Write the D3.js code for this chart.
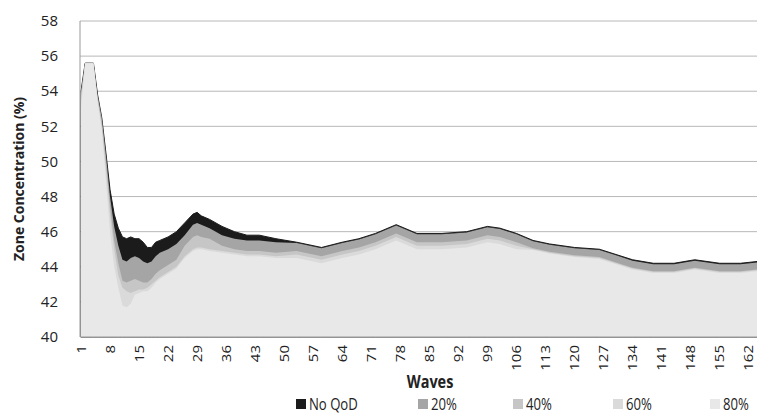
<!DOCTYPE html>
<html>
<head>
<meta charset="utf-8">
<script src="https://cdn.jsdelivr.net/npm/d3@7"></script>
<style>
body { margin: 0; background: #fff; }
text { font-family: 'Open Sans', sans-serif; fill: #222; }
</style>
</head>
<body>
<svg id="chart" width="757" height="415"></svg>
<script>
'use strict';
const waves = [1,2,4,5,6,7,8,9,10,11,12,13,14,15,16,17,18,19,20,22,24,26,28,29,30,32,35,38,41,44,48,53,59,64,68,72,77,82,88,94,99,102,106,110,114,120,126,130,134,139,144,149,155,160,164];
const noQod = [54.0,55.6,55.6,53.8,52.5,50.5,48.4,47.0,46.2,45.7,45.6,45.7,45.6,45.6,45.4,45.1,45.1,45.4,45.5,45.7,46.0,46.5,47.0,47.1,46.9,46.7,46.3,46.0,45.8,45.8,45.6,45.4,45.1,45.4,45.6,45.9,46.4,45.9,45.9,46.0,46.3,46.2,45.9,45.5,45.3,45.1,45.0,44.7,44.4,44.2,44.2,44.4,44.2,44.2,44.3];
const p20 = [54.0,55.6,55.6,53.8,52.5,50.4,48.0,46.3,45.2,44.4,44.3,44.5,44.6,44.5,44.3,44.2,44.3,44.6,44.8,45.0,45.3,45.8,46.4,46.5,46.4,46.2,45.8,45.6,45.5,45.5,45.4,45.35,45.05,45.35,45.55,45.85,46.35,45.85,45.85,45.95,46.25,46.15,45.85,45.45,45.25,45.05,44.95,44.65,44.35,44.15,44.15,44.35,44.15,44.15,44.25];
const p40 = [53.8,55.6,55.6,53.6,52.2,50.0,47.5,45.5,44.2,43.2,43.1,43.2,43.3,43.2,43.1,43.1,43.3,43.6,43.8,44.1,44.4,45.2,45.7,45.8,45.7,45.6,45.2,45.0,44.9,44.9,44.8,44.9,44.6,44.9,45.1,45.4,45.9,45.4,45.4,45.5,45.8,45.7,45.4,45.05,44.85,44.65,44.55,44.25,43.95,43.75,43.75,43.95,43.75,43.75,43.85];
const p60 = [53.5,55.6,55.6,53.5,52.0,49.6,47.0,45.0,43.5,42.8,42.6,42.5,42.6,42.7,42.7,42.8,43.0,43.2,43.4,43.7,44.0,44.6,45.0,45.1,45.1,45.0,44.9,44.8,44.7,44.7,44.6,44.7,44.4,44.7,44.9,45.2,45.7,45.2,45.2,45.3,45.6,45.5,45.2,45.0,44.8,44.6,44.5,44.2,43.9,43.7,43.7,43.9,43.7,43.7,43.8];
const p80 = [53.0,55.6,55.6,53.4,51.8,49.0,46.0,44.0,42.8,41.8,41.7,41.9,42.4,42.5,42.6,42.6,42.8,43.1,43.3,43.6,43.9,44.5,44.9,45.0,45.0,44.9,44.8,44.7,44.6,44.6,44.5,44.5,44.2,44.5,44.7,45.0,45.5,45.0,45.0,45.1,45.4,45.3,45.0,44.95,44.75,44.55,44.45,44.15,43.85,43.65,43.65,43.85,43.65,43.65,43.75];
const seriesNames = ['No QoD','20%','40%','60%','80%'];
const seriesColors = ['#1b1b1b','#a5a5a5','#c6c6c6','#dadada','#e8e8e8'];
const seriesValues = [noQod, p20, p40, p60, p80];
const xTicks = d3.range(1, 163, 7); //1, 8, ... 162
const yTicks = d3.range(40, 59, 2);

const svg = d3.select('#chart');
const x0 = 80, x1 = 757, yTop = 21, yBot = 337;
const x = d3.scaleLinear().domain([1, 164]).range([x0 + 1, x1]);
const y = d3.scaleLinear().domain([40, 58]).range([yBot, yTop]);

//Gridlines.
svg.append('g').selectAll('line').data(yTicks.filter(d => d > 40)).join('line')
	.attr('x1', x0).attr('x2', x1)
	.attr('y1', d => y(d)).attr('y2', d => y(d))
	.attr('stroke', '#b8b8b8').attr('stroke-width', 1);

//Areas, darkest (highest) first so lighter ones cover it.
const area = d3.area()
	.x((d, i) => x(waves[i]))
	.y0(y(40))
	.y1(d => y(d));
seriesValues.forEach((vals, k) => {
	svg.append('path')
		.attr('d', area(vals))
		.attr('fill', seriesColors[k])
		.attr('stroke', k === 0 ? '#1b1b1b' : 'none')
		.attr('stroke-width', 1);
});

//Axis frame.
svg.append('line').attr('x1', x0).attr('x2', x0).attr('y1', yTop).attr('y2', yBot)
	.attr('stroke', '#999');
svg.append('line').attr('x1', x0).attr('x2', x1).attr('y1', yBot).attr('y2', yBot)
	.attr('stroke', '#999');

//Y tick labels.
svg.append('g').selectAll('text').data(yTicks).join('text')
	.attr('x', 58).attr('y', d => y(d)).attr('dy', '0.35em')
	.attr('text-anchor', 'end').style('font-size', '15px')
	.text(d => d);
svg.append('text')
	.attr('transform', `translate(24,${(yTop + yBot) / 2}) rotate(-90)`)
	.attr('text-anchor', 'middle').style('font-size', '14px').style('font-weight', 'bold')
	.text('Zone Concentration (%)');

//X tick labels, rotated.
svg.append('g').selectAll('text').data(xTicks).join('text')
	.attr('transform', d => `translate(${x(d)},345) rotate(-90) scale(1,0.9)`)
	.attr('text-anchor', 'end').attr('dy', '0.35em').style('font-size', '15px')
	.text(d => d);
svg.append('text')
	.attr('transform', 'translate(430,388) scale(0.85,1)')
	.attr('text-anchor', 'middle')
	.style('font-size', '17px').style('font-weight', 'bold')
	.text('Waves');

//Legend.
const legX = [296, 418, 513, 613, 710];
seriesNames.forEach((name, k) => {
	svg.append('rect').attr('x', legX[k]).attr('y', 399).attr('width', 10).attr('height', 10)
		.attr('fill', seriesColors[k]);
	svg.append('text')
		.attr('transform', `translate(${legX[k] + 13},410) scale(0.82,1)`)
		.style('font-size', '16px')
		.text(name);
});
</script>
</body>
</html>
